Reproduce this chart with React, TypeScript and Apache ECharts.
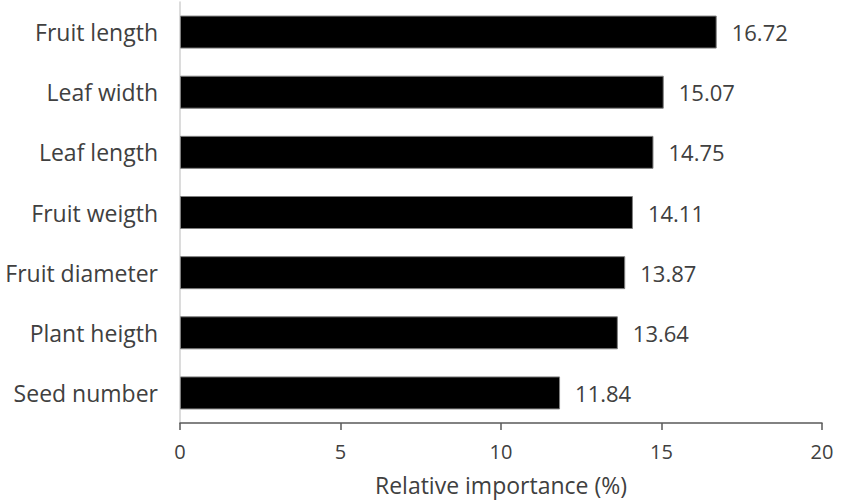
import React, { useEffect, useRef } from "react";
import * as echarts from "echarts";

const categories = [
  "Fruit length",
  "Leaf width",
  "Leaf length",
  "Fruit weigth",
  "Fruit diameter",
  "Plant heigth",
  "Seed number",
];
const values = [16.72, 15.07, 14.75, 14.11, 13.87, 13.64, 11.84];
const xTicks = { min: 0, max: 20, interval: 5 };
const axisTitle = "Relative importance (%)";

export default function App() {
  const ref = useRef<HTMLDivElement>(null);
  useEffect(() => {
    if (!ref.current) return;
    const chart = echarts.init(ref.current, null, { renderer: "svg" });
    const font = "'Open Sans', 'Noto Sans', sans-serif";
    chart.setOption({
      animation: false,
      grid: { left: 180, right: 28, top: 2, bottom: 81, containLabel: false },
      xAxis: {
        type: "value",
        min: xTicks.min,
        max: xTicks.max,
        interval: xTicks.interval,
        name: axisTitle,
        nameLocation: "middle",
        nameGap: 50,
        nameTextStyle: { fontFamily: font, fontSize: 23, color: "#404040" },
        axisLine: { show: true, lineStyle: { color: "#595959", width: 1.5 } },
        axisTick: { show: true, length: 7, lineStyle: { color: "#595959", width: 1.5 } },
        axisLabel: { fontFamily: font, fontSize: 20, color: "#404040", margin: 18 },
        splitLine: { show: false },
      },
      yAxis: {
        type: "category",
        data: categories,
        inverse: true,
        axisLine: { show: true, lineStyle: { color: "#d0d0d0", width: 1.5 } },
        axisTick: { show: false },
        axisLabel: { fontFamily: font, fontSize: 23, color: "#404040", margin: 22 },
      },
      series: [
        {
          type: "bar",
          data: values,
          barWidth: 33,
          itemStyle: { color: "#000000", borderColor: "#808080", borderWidth: 1 },
          label: {
            show: true,
            position: "right",
            distance: 15,
            fontFamily: font,
            fontSize: 22,
            color: "#404040",
            formatter: (p: any) => p.value.toFixed(2),
          },
        },
      ],
    });
    return () => chart.dispose();
  }, []);
  return <div ref={ref} style={{ width: 850, height: 504, position: "absolute", left: 0, top: 0 }} />;
}
